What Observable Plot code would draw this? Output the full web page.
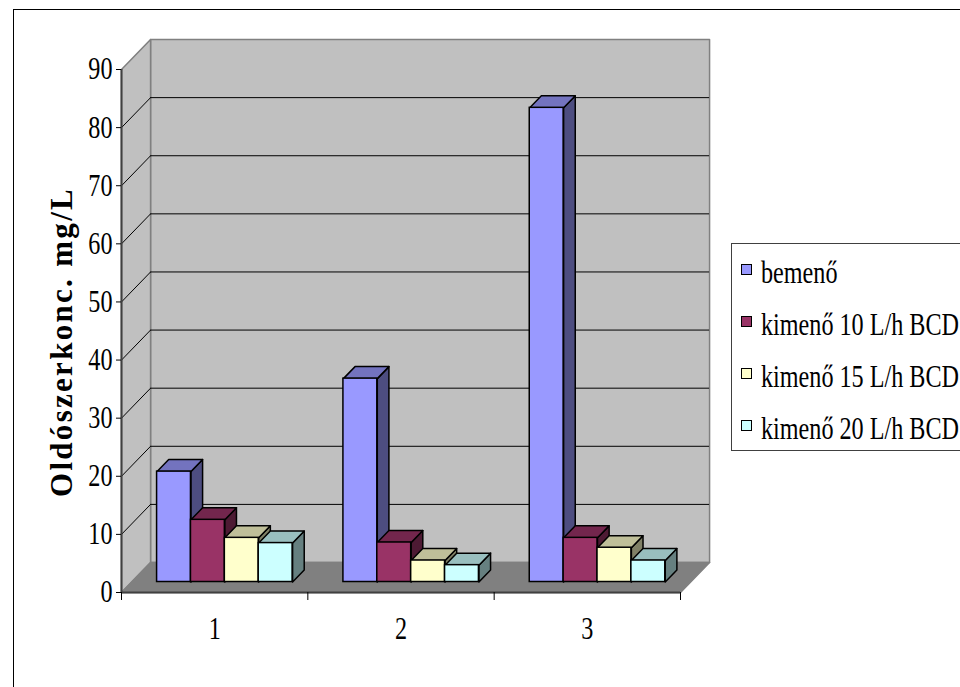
<!DOCTYPE html>
<html>
<head>
<meta charset="utf-8">
<script src="https://cdn.jsdelivr.net/npm/d3@7"></script>
<script src="https://cdn.jsdelivr.net/npm/@observablehq/plot@0.6"></script>
<style>
  html, body { margin: 0; padding: 0; background: #fff; overflow: hidden; }
  #chart { position: relative; width: 960px; height: 687px; }
  #chart svg { position: absolute; left: 0; top: 0; }
</style>
</head>
<body>
<div id="chart"></div>
<script>
// Samples on the category axis and the four measured series (mg/L)
const categories = ["1", "2", "3"];
const seriesNames = ["bemenő", "kimenő 10 L/h BCD", "kimenő 15 L/h BCD", "kimenő 20 L/h BCD"];
const bemeno   = [19, 35, 81.6];
const kimeno10 = [10.7, 6.8, 7.6];
const kimeno15 = [7.6, 3.7, 5.9];
const kimeno20 = [6.7, 2.9, 3.7];
const yTicks = [0, 10, 20, 30, 40, 50, 60, 70, 80, 90];
const yTitle = "Oldószerkonc. mg/L";

// Face colours of each series: front, top (lit) and side (shaded)
const frontColors = ["#9999ff", "#993366", "#ffffcc", "#ccffff"];
const topColors   = ["#7373bf", "#73264d", "#bfbf99", "#99bfbf"];
const sideColors  = ["#4d4d80", "#4d1a33", "#808066", "#668080"];

const seriesValues = [bemeno, kimeno10, kimeno15, kimeno20];
const n = categories.length;
const yMax = yTicks[yTicks.length - 1];
const serif = "'Liberation Serif', 'Times New Roman', serif";

// Oblique projection: depth z in [0, 1] shifts a point right and up (in data units)
const DEPTH_X = 0.156, DEPTH_Y = 5.16;
const BAR_W = 1 / 5.5, GAP = 0.75 / 5.5;
const Z_FRONT = 0.35, Z_BACK = 0.75;
const P = (x, y, z) => ({x: x + z * DEPTH_X, y: y + z * DEPTH_Y});

// Walls and floor of the 3D box
const walls = [];
const addPoly = (arr, id, fill, pts) => pts.forEach(p => arr.push({id, fill, ...p}));
addPoly(walls, "back", "#c0c0c0", [P(0, 0, 1), P(n, 0, 1), P(n, yMax, 1), P(0, yMax, 1)]);
addPoly(walls, "left", "#c0c0c0", [P(0, 0, 0), P(0, yMax, 0), P(0, yMax, 1), P(0, 0, 1)]);
addPoly(walls, "floor", "#808080", [P(0, 0, 0), P(n, 0, 0), P(n, 0, 1), P(0, 0, 1)]);

// One record per column, then its side and top faces as polygons
const bars = [];
categories.forEach((c, ci) => {
  seriesValues.forEach((vals, si) => {
    const x0 = ci + GAP + si * BAR_W;
    bars.push({ci, si, x0, x1: x0 + BAR_W, v: vals[ci]});
  });
});
const faces = [];
bars.forEach((b, k) => {
  addPoly(faces, `side${k}`, sideColors[b.si], [
    P(b.x1, 0, Z_FRONT), P(b.x1, b.v, Z_FRONT), P(b.x1, b.v, Z_BACK), P(b.x1, 0, Z_BACK)
  ]);
  addPoly(faces, `top${k}`, topColors[b.si], [
    P(b.x0, b.v, Z_FRONT), P(b.x1, b.v, Z_FRONT), P(b.x1, b.v, Z_BACK), P(b.x0, b.v, Z_BACK)
  ]);
});

const gridVals = yTicks.filter(v => v > 0 && v < yMax);

const chart = Plot.plot({
  width: 960,
  height: 687,
  marginLeft: 121,
  marginRight: 280,
  marginTop: 69,
  marginBottom: 95,
  style: {fontFamily: serif, fontSize: "31px", background: "transparent", overflow: "visible", color: "#000"},
  x: {domain: [0, n]},
  y: {domain: [0, yMax]},
  color: {type: "identity"},
  marks: [
    // box walls
    Plot.line(walls, {x: "x", y: "y", z: "id", fill: "fill", stroke: "#808080", strokeWidth: 1.5, curve: "linear-closed"}),
    // gridlines on the back wall and across the left wall
    Plot.ruleY(gridVals, {y: v => v + DEPTH_Y, x1: () => DEPTH_X, x2: () => n + DEPTH_X, stroke: "#000", strokeWidth: 1}),
    Plot.link(gridVals, {x1: () => 0, y1: v => v, x2: () => DEPTH_X, y2: v => v + DEPTH_Y, stroke: "#000", strokeWidth: 1}),
    // front axis lines
    Plot.ruleX([0], {y1: 0, y2: yMax, stroke: "#404040", strokeWidth: 2}),
    Plot.ruleY([0], {x1: 0, x2: n, stroke: "#404040", strokeWidth: 2}),
    // columns: side and top faces, then fronts
    Plot.line(faces, {x: "x", y: "y", z: "id", fill: "fill", stroke: "#000", strokeWidth: 1.5, strokeLinejoin: "round", curve: "linear-closed"}),
    Plot.rect(bars, {
      x1: b => b.x0 + Z_FRONT * DEPTH_X,
      x2: b => b.x1 + Z_FRONT * DEPTH_X,
      y1: () => Z_FRONT * DEPTH_Y,
      y2: b => b.v + Z_FRONT * DEPTH_Y,
      fill: b => frontColors[b.si],
      stroke: "#000",
      strokeWidth: 1.5
    }),
    // axes
    Plot.axisY({ticks: yTicks, tickSize: 5, tickPadding: 4, label: null}),
    Plot.axisX({ticks: d3.range(n + 1), tickSize: 8, tickFormat: () => "", label: null}),
    Plot.axisX({ticks: categories.map((c, i) => i + 0.5), tickSize: 0, tickPadding: 24,
                tickFormat: d => categories[Math.floor(d)], label: null}),
    // value axis title
    Plot.text([yTitle], {text: d => d, frameAnchor: "left", textAnchor: "middle", lineAnchor: "middle",
                         rotate: -90, dx: -59, dy: 11, fontSize: 31, fontWeight: "bold"})
  ]
});

// Narrow serif lettering: squeeze labels horizontally, space the title out
chart.querySelectorAll("text").forEach(t => {
  if (t.textContent === yTitle) {
    t.style.letterSpacing = "2.3px";
  } else if (t.textContent !== "") {
    const tr = t.getAttribute("transform") || "";
    t.setAttribute("transform", `${tr} scale(0.78,1)`);
  }
});

document.getElementById("chart").appendChild(chart);

// Legend box and outer border
const overlay = d3.create("svg").attr("width", 960).attr("height", 687);
overlay.append("rect")
  .attr("x", 13.5).attr("y", 9.5).attr("width", 2000).attr("height", 2000)
  .attr("fill", "none").attr("stroke", "#000");
const lg = overlay.append("g").style("font-family", serif).style("font-size", "31px");
lg.append("rect")
  .attr("x", 731.5).attr("y", 243.5).attr("width", 400).attr("height", 207)
  .attr("fill", "#fff").attr("stroke", "#404040");
seriesNames.forEach((name, i) => {
  lg.append("rect")
    .attr("x", 741.5).attr("y", 264.5 + 52 * i).attr("width", 10).attr("height", 10)
    .attr("fill", frontColors[i]).attr("stroke", "#000");
  lg.append("text")
    .attr("transform", `translate(761,${283 + 52 * i}) scale(0.78,1)`)
    .text(name);
});
document.getElementById("chart").appendChild(overlay.node());
</script>
</body>
</html>
